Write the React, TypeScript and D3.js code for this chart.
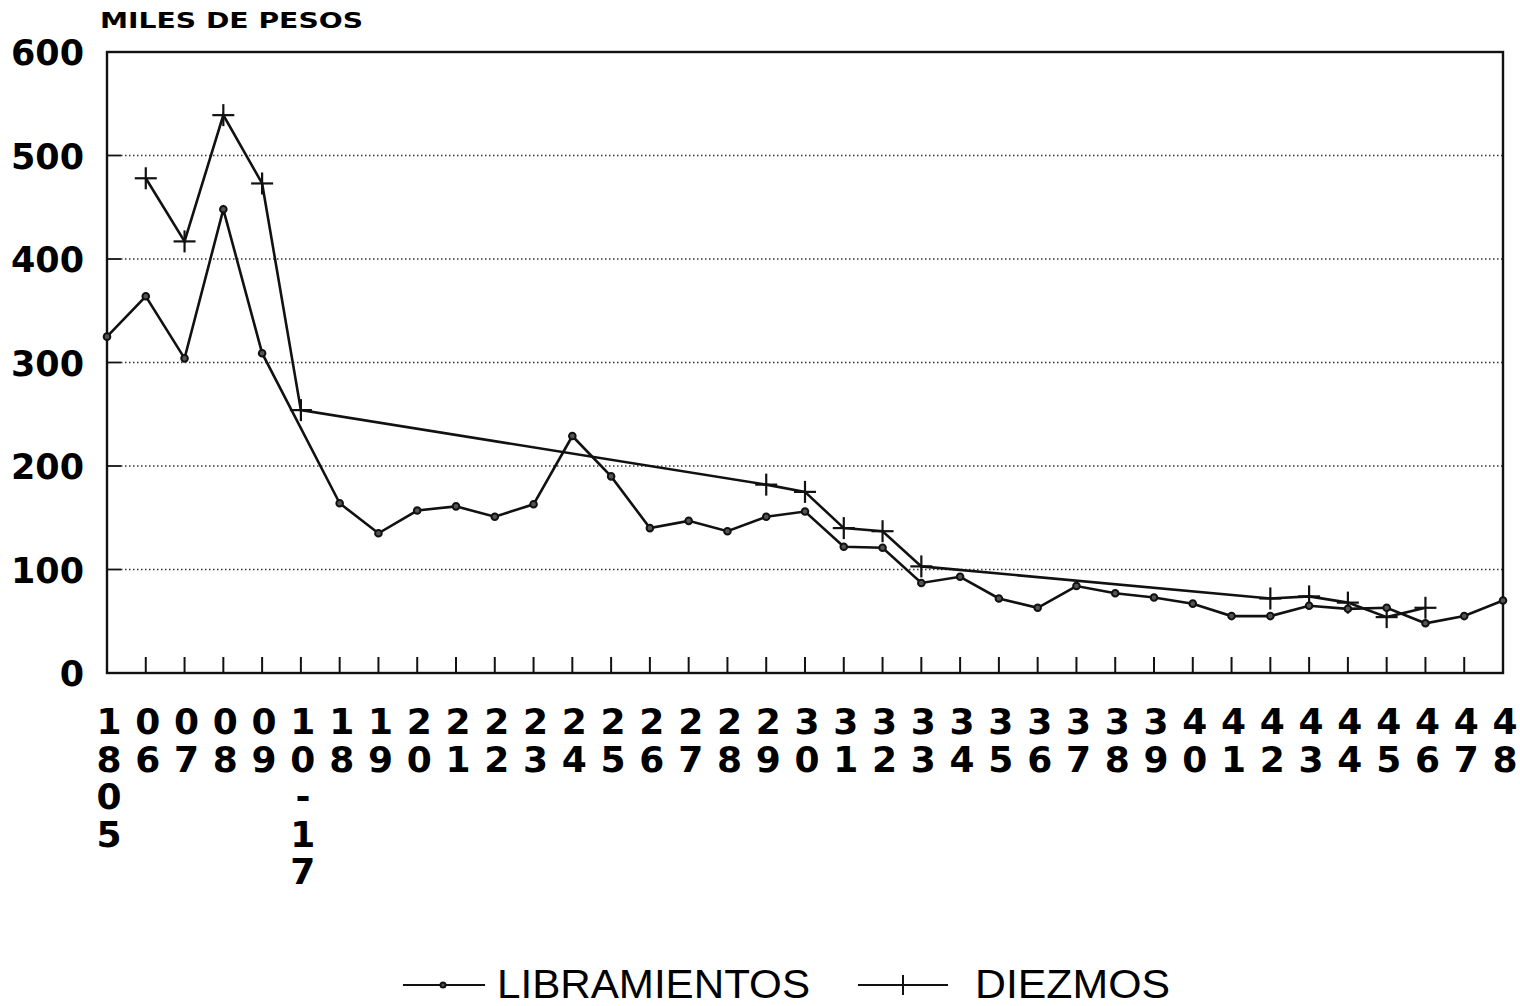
import React from "react";
import * as d3 from "d3";

// años (etiquetas del eje x, una cifra por renglón)
const categories = [
  "1805", "06", "07", "08", "09", "10-17", "18", "19", "20", "21", "22", "23",
  "24", "25", "26", "27", "28", "29", "30", "31", "32", "33", "34", "35", "36",
  "37", "38", "39", "40", "41", "42", "43", "44", "45", "46", "47", "48",
];

// miles de pesos
const libramientos: (number | null)[] = [
  325, 364, 304, 448, 309, null, 164, 135, 157, 161, 151, 163, 229, 190, 140,
  147, 137, 151, 156, 122, 121, 87, 93, 72, 63, 84, 77, 73, 67, 55, 55, 65, 62,
  63, 48, 55, 70,
];

const diezmos: (number | null)[] = [
  null, 478, 417, 539, 473, 254, null, null, null, null, null, null, null, null,
  null, null, null, 182, 175, 140, 137, 103, null, null, null, null, null, null,
  null, null, 72, 74, 68, 54, 63, null, null,
];

const yTicks = [0, 100, 200, 300, 400, 500, 600];
const gridTicks = [100, 200, 300, 400, 500];

const W = 1520;
const H = 1006;
const left = 107;
const right = 1503;
const top = 52;
const bottom = 673;

export default function App() {
  const x = d3.scalePoint<string>().domain(categories).range([left, right]);
  const y = d3.scaleLinear().domain([0, 600]).range([bottom, top]);

  const pts = (vals: (number | null)[]) =>
    vals
      .map((v, i) => ({ c: categories[i], v }))
      .filter((d) => d.v != null) as { c: string; v: number }[];

  const line = d3
    .line<{ c: string; v: number }>()
    .x((d) => x(d.c)!)
    .y((d) => y(d.v));

  const libPts = pts(libramientos);
  const diePts = pts(diezmos);

  return (
    <div style={{ position: "absolute", left: 0, top: 0 }}>
      <svg width={W} height={H} style={{ display: "block", background: "#fff" }}>
        {/* título del eje */}
        <text
          x={100}
          y={28}
          fontFamily="DejaVu Sans"
          fontWeight="bold"
          fontSize={22}
          textLength={263}
          lengthAdjust="spacingAndGlyphs"
        >
          MILES DE PESOS
        </text>

        {/* rejilla punteada */}
        {gridTicks.map((t) => (
          <g key={t}>
            <line x1={left} x2={left + 14} y1={y(t)} y2={y(t)} stroke="#111" strokeWidth={1.8} />
            <line
              x1={left + 14}
              x2={right}
              y1={y(t)}
              y2={y(t)}
              stroke="#333"
              strokeWidth={1.4}
              strokeDasharray="1.5,2.5"
            />
          </g>
        ))}

        {/* marco */}
        <rect
          x={left}
          y={top}
          width={right - left}
          height={bottom - top}
          fill="none"
          stroke="#111"
          strokeWidth={2.4}
        />

        {/* marcas del eje x */}
        {categories.map((c) => (
          <line key={c} x1={x(c)} x2={x(c)} y1={bottom} y2={bottom - 16} stroke="#111" strokeWidth={2} />
        ))}

        {/* etiquetas eje y */}
        {yTicks.map((t) => (
          <text
            key={t}
            x={84}
            y={y(t) + 3}
            textAnchor="end"
            dominantBaseline="middle"
            fontFamily="DejaVu Sans"
            fontWeight="bold"
            fontSize={35}
          >
            {t}
          </text>
        ))}

        {/* etiquetas eje x, verticales: una cifra por renglón */}
        {categories.map((c) =>
          c.split("").map((ch, i) => (
            <text
              key={c + i}
              x={x(c)! + 2}
              y={734 + i * 37.5}
              textAnchor="middle"
              fontFamily="DejaVu Sans"
              fontWeight="bold"
              fontSize={36}
            >
              {ch}
            </text>
          ))
        )}

        {/* series */}
        <path d={line(diePts) ?? ""} fill="none" stroke="#111" strokeWidth={2.6} />
        <path d={line(libPts) ?? ""} fill="none" stroke="#111" strokeWidth={2.6} />

        {diePts.map((d) => (
          <g key={d.c} stroke="#111" strokeWidth={2.2}>
            <line x1={x(d.c)! - 11} x2={x(d.c)! + 11} y1={y(d.v)} y2={y(d.v)} />
            <line x1={x(d.c)} x2={x(d.c)} y1={y(d.v) - 11} y2={y(d.v) + 11} />
          </g>
        ))}
        {libPts.map((d) => (
          <circle key={d.c} cx={x(d.c)} cy={y(d.v)} r={3.3} fill="#555" stroke="#111" strokeWidth={2} />
        ))}

        {/* leyenda */}
        <g stroke="#111" strokeWidth={2}>
          <line x1={403} x2={485} y1={985} y2={985} />
          <circle cx={443} cy={985} r={2.5} fill="#555" />
          <line x1={858} x2={948} y1={985} y2={985} />
          <line x1={903} x2={903} y1={975} y2={995} />
        </g>
        <text x={497} y={998} fontFamily="Liberation Sans" fontSize={40} textLength={313} lengthAdjust="spacingAndGlyphs">
          LIBRAMIENTOS
        </text>
        <text x={975} y={998} fontFamily="Liberation Sans" fontSize={40} textLength={195} lengthAdjust="spacingAndGlyphs">
          DIEZMOS
        </text>
      </svg>
    </div>
  );
}
